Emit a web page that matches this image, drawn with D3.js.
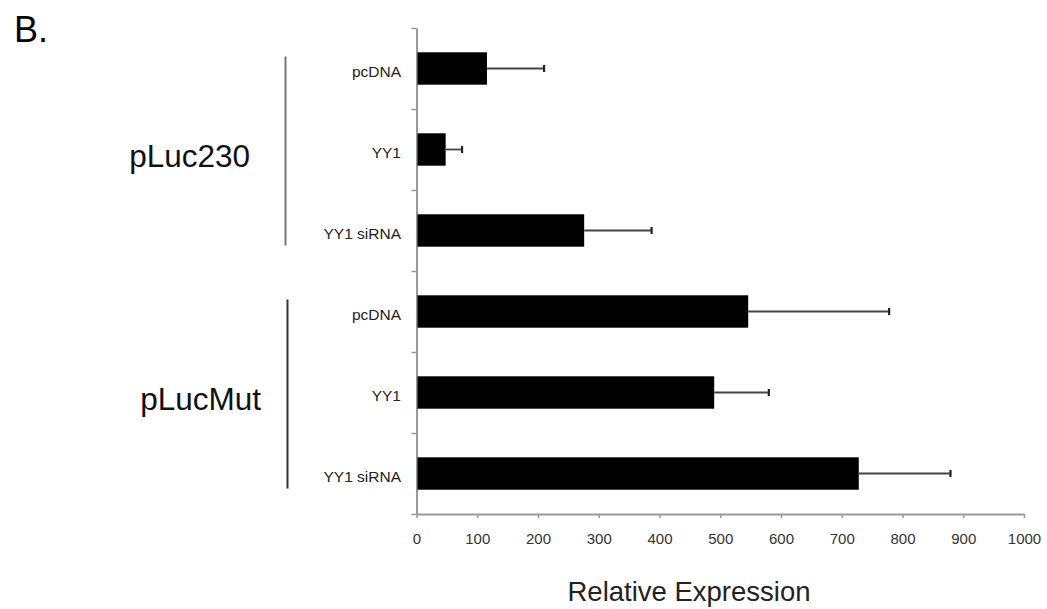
<!DOCTYPE html>
<html>
<head>
<meta charset="utf-8">
<script src="https://cdn.jsdelivr.net/npm/d3@7/dist/d3.min.js"></script>
<style>
  body { margin: 0; background: #fff; }
  text { font-family: "Liberation Sans", Arial, Helvetica, sans-serif; }
</style>
</head>
<body>
<svg id="chart" width="1047" height="609"></svg>
<script>
// data
var groups = ["pLuc230", "pLucMut"];
var conditions = ["pcDNA", "YY1", "YY1 siRNA"];
var pLuc230Values = [116, 48, 276];
var pLuc230Errors = [94, 27, 111];
var pLucMutValues = [546, 490, 728];
var pLucMutErrors = [232, 90, 151];
var xTicks = [0, 100, 200, 300, 400, 500, 600, 700, 800, 900, 1000];

var rows = [];
[pLuc230Values, pLucMutValues].forEach(function (vals, g) {
  var errs = g === 0 ? pLuc230Errors : pLucMutErrors;
  conditions.forEach(function (c, i) {
    rows.push({ id: g + "-" + i, group: groups[g], label: c, value: vals[i], err: errs[i] });
  });
});

var svg = d3.select("#chart");
var plotLeft = 416.5, plotRight = 1024, plotTop = 28, plotBottom = 514;

var x = d3.scaleLinear().domain([0, 1000]).range([plotLeft, plotRight]);
var y = d3.scaleBand()
  .domain(rows.map(function (d) { return d.id; }))
  .range([plotTop, plotBottom])
  .paddingInner(0.6)
  .paddingOuter(0.3);

var axisColor = "#999";

// x axis
var gx = svg.append("g")
  .attr("transform", "translate(0," + plotBottom + ")")
  .call(d3.axisBottom(x).tickValues(xTicks).tickFormat(d3.format("d"))
    .tickSize(4).tickPadding(15).tickSizeOuter(0));
gx.select(".domain").attr("stroke", axisColor).attr("stroke-width", 2);
gx.selectAll(".tick line").attr("stroke", axisColor).attr("stroke-width", 1.5);
gx.selectAll(".tick text")
  .attr("font-size", 15)
  .attr("fill", "#333")
  .style("font-family", "'Liberation Sans', Arial, sans-serif");

// y axis, ticks at row boundaries
var yEdge = d3.scaleLinear().domain([0, rows.length]).range([plotTop, plotBottom]);
var gy = svg.append("g")
  .attr("transform", "translate(" + plotLeft + ",0)")
  .call(d3.axisLeft(yEdge).ticks(rows.length).tickFormat("").tickSize(5).tickSizeOuter(0));
gy.select(".domain").attr("stroke", axisColor).attr("stroke-width", 2);
gy.selectAll(".tick line").attr("stroke", axisColor).attr("stroke-width", 1.5);

// bars
svg.selectAll("rect.bar")
  .data(rows)
  .enter().append("rect")
  .attr("class", "bar")
  .attr("x", x(0) + 1)
  .attr("y", function (d) { return y(d.id); })
  .attr("width", function (d) { return x(d.value) - x(0) - 1; })
  .attr("height", y.bandwidth())
  .attr("fill", "#000");

// error bars
var eb = svg.selectAll("g.err")
  .data(rows)
  .enter().append("g")
  .attr("class", "err");
eb.append("line")
  .attr("x1", function (d) { return x(d.value); })
  .attr("x2", function (d) { return x(d.value + d.err); })
  .attr("y1", function (d) { return y(d.id) + y.bandwidth() / 2; })
  .attr("y2", function (d) { return y(d.id) + y.bandwidth() / 2; })
  .attr("stroke", "#444")
  .attr("stroke-width", 1.8);
eb.append("line")
  .attr("x1", function (d) { return x(d.value + d.err); })
  .attr("x2", function (d) { return x(d.value + d.err); })
  .attr("y1", function (d) { return y(d.id) + y.bandwidth() / 2 - 3.5; })
  .attr("y2", function (d) { return y(d.id) + y.bandwidth() / 2 + 3.5; })
  .attr("stroke", "#222")
  .attr("stroke-width", 2.2);

// condition labels
svg.selectAll("text.cond")
  .data(rows)
  .enter().append("text")
  .attr("class", "cond")
  .attr("x", 401)
  .attr("y", function (d) { return y(d.id) + y.bandwidth() / 2 + 8; })
  .attr("text-anchor", "end")
  .attr("font-size", 15.5)
  .attr("fill", "#222")
  .text(function (d) { return d.label; });

// group brackets and names
var groupInfo = groups.map(function (g, i) {
  var ids = rows.filter(function (d) { return d.group === g; }).map(function (d) { return d.id; });
  return {
    name: g,
    y1: y(ids[0]) + y.bandwidth() / 2 - 12,
    y2: y(ids[ids.length - 1]) + y.bandwidth() / 2 + 15,
    color: i === 0 ? "#777" : "#333",
    lx: i === 0 ? 285.5 : 287.5,
    tx: i === 0 ? 250 : 261
  };
});

svg.selectAll("line.bracket")
  .data(groupInfo)
  .enter().append("line")
  .attr("class", "bracket")
  .attr("x1", function (d) { return d.lx; })
  .attr("x2", function (d) { return d.lx; })
  .attr("y1", function (d) { return d.y1; })
  .attr("y2", function (d) { return d.y2; })
  .attr("stroke", function (d) { return d.color; })
  .attr("stroke-width", 2);

svg.selectAll("text.group")
  .data(groupInfo)
  .enter().append("text")
  .attr("class", "group")
  .attr("x", function (d) { return d.tx; })
  .attr("y", function (d) { return (d.y1 + d.y2) / 2 + 16; })
  .attr("text-anchor", "end")
  .attr("font-size", 31.5)
  .attr("fill", "#111")
  .text(function (d) { return d.name; });

// panel letter
svg.append("text")
  .attr("x", 14)
  .attr("y", 42)
  .attr("font-size", 36)
  .attr("fill", "#000")
  .text("B.");

// axis title
svg.append("text")
  .attr("x", (565 + 813) / 2)
  .attr("y", 601)
  .attr("text-anchor", "middle")
  .attr("font-size", 27.5)
  .attr("fill", "#222")
  .text("Relative Expression");
</script>
</body>
</html>
